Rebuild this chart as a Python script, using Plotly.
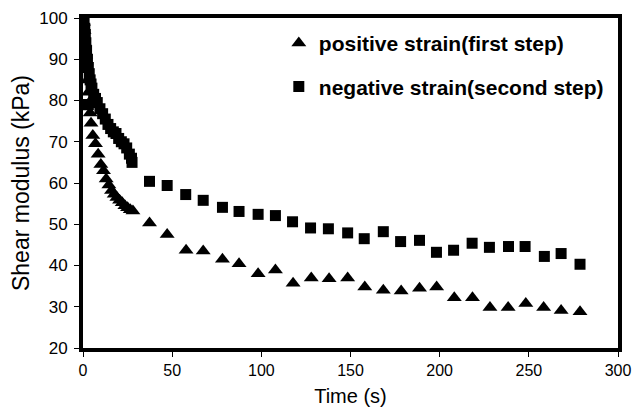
import plotly.graph_objects as go

# positive strain (first step) - triangles
pos_t = [0.3, 0.6, 1.0, 1.5, 2.0, 2.5, 3.0, 3.5, 4.0, 4.5, 5.5, 7.0, 8.5, 10.0, 11.5,
         13.0, 14.5, 16.0, 17.5, 19.0, 20.5, 22.0, 23.5, 25.0, 26.5, 28.0,
         37.3, 47.2, 57.8, 67.4, 78.2, 87.5, 98.2, 107.9, 117.8, 128.0, 138.0, 148.4,
         158.0, 168.4, 178.4, 188.7, 198.3, 208.2, 218.4, 228.2, 238.4, 248.3, 258.3,
         268.1, 278.7]
pos_g = [99.0, 97.0, 94.0, 91.0, 88.0, 85.0, 82.0, 79.5, 77.0, 74.5, 71.5, 69.5, 67.0,
         64.5, 63.0, 61.0, 59.5, 58.2, 57.3, 56.5, 55.8, 55.2, 54.5, 54.0, 53.5, 53.2,
         50.3, 47.5, 43.7, 43.5, 41.5, 40.4, 38.0, 38.9, 35.7, 37.0, 36.8, 37.0,
         34.8, 34.0, 33.8, 34.5, 34.8, 32.2, 32.2, 29.8, 29.8, 30.8, 29.8,
         29.1, 28.8]

# negative strain (second step) - squares
neg_t = [0.3, 0.6, 1.0, 1.3, 1.6, 2.0, 2.5, 3.0, 3.5, 4.0, 4.5, 5.0, 1.5, 3.0,
         6.0, 7.0, 8.0, 9.5, 11.0, 12.5, 14.0, 15.5, 17.0, 18.5, 20.0, 21.5, 23.0,
         24.5, 26.0, 27.2, 27.5,
         37.3, 47.2, 57.6, 67.4, 78.2, 87.5, 98.2, 107.9, 117.5, 127.6, 137.6, 148.4,
         157.7, 168.4, 178.1, 188.7, 198.2, 207.8, 218.2, 227.9, 238.6, 247.9, 258.7,
         268.1, 278.7]
neg_g = [100.0, 99.0, 97.5, 96.0, 94.0, 92.0, 90.0, 88.0, 86.5, 85.0, 84.0, 83.0, 79.0, 79.0,
         81.5, 80.5, 79.5, 78.0, 76.8, 75.5, 74.2, 73.2, 72.4, 72.0, 70.8, 70.0, 69.5,
         68.5, 67.0, 66.0, 65.0,
         60.4, 59.4, 57.2, 55.8, 54.1, 53.1, 52.4, 52.1, 50.6, 49.1, 48.9, 47.9,
         46.5, 48.2, 45.8, 46.1, 43.2, 43.7, 45.4, 44.4, 44.6, 44.6, 42.2,
         42.9, 40.3]

x_ticks = [0, 50, 100, 150, 200, 250, 300]
y_ticks = [20, 30, 40, 50, 60, 70, 80, 90, 100]

fig = go.Figure()
fig.add_trace(go.Scatter(x=pos_t, y=pos_g, mode="markers", name="positive strain(first step)",
                         legendgroup="a",
                         marker=dict(symbol="triangle-up", size=13, color="black")))
fig.add_trace(go.Scatter(x=neg_t, y=neg_g, mode="markers", name="negative strain(second step)",
                         legendgroup="b",
                         marker=dict(symbol="square", size=11, color="black")))

fig.update_layout(
    width=632, height=417,
    margin=dict(l=83, r=14, t=18, b=69),
    paper_bgcolor="white", plot_bgcolor="white",
    font=dict(family="Liberation Sans, Arial, sans-serif", color="black", size=17),
    showlegend=True,
    legend=dict(x=0.366, y=0.985, xanchor="left", yanchor="top",
                bgcolor="rgba(0,0,0,0)", tracegroupgap=13, traceorder="grouped",
                font=dict(size=21, family="Liberation Sans, Arial, sans-serif", weight="bold"),
                itemwidth=30),
    xaxis=dict(range=[0, 300], tickvals=x_ticks, ticks="outside", ticklen=5, tickwidth=1,
               tickcolor="black", showline=True, linewidth=4, linecolor="black", mirror=True,
               showgrid=False, zeroline=False, ticklabeloverflow="allow", automargin=False,
               tickfont=dict(size=16),
               title=dict(text="Time (s)", font=dict(size=20), standoff=12)),
    yaxis=dict(range=[20, 100], tickvals=y_ticks, ticks="outside", ticklen=5, tickwidth=1,
               tickcolor="black", showline=True, linewidth=4, linecolor="black", mirror=True,
               showgrid=False, zeroline=False, ticklabelstandoff=3, automargin=False,
               title=dict(text="Shear modulus (kPa)", font=dict(size=23), standoff=4)),
)

fig.write_html("out.html", config={"displayModeBar": False},
               post_script="document.body.style.margin='0';")
